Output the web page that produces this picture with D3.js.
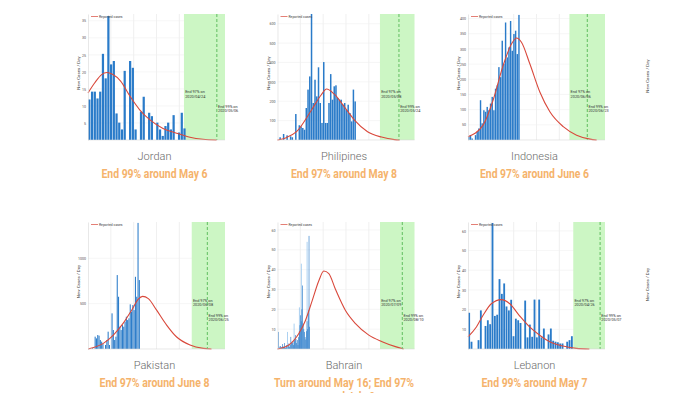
<!DOCTYPE html>
<html><head><meta charset="utf-8">
<script src="https://cdn.jsdelivr.net/npm/d3@7"></script>
<style>body{margin:0;background:#fff;} svg{display:block;}</style>
</head><body>
<svg id="c" width="700" height="393"></svg>
<script>
// ---------- data ----------
const countries = ["Jordan", "Philipines", "Indonesia", "Pakistan", "Bahrain", "Lebanon"];
const headlines = [
  ["End 99% around May 6"],
  ["End 97% around May 8"],
  ["End 97% around June 6"],
  ["End 97% around June 8"],
  ["Turn around May 16; End 97%", "around July 9"],
  ["End 99% around May 7"]
];
const end97Dates = ["2020/04/24", "2020/05/08", "2020/06/06", "2020/06/08", "2020/07/09", "2020/04/26"];
const end99Dates = ["2020/05/06", "2020/05/24", "2020/06/23", "2020/06/25", "2020/08/10", "2020/05/07"];

// daily new cases (one value per day, from day 0)
const jordanCases = [11.9, 14.2, 14.2, 12.2, 14.2, 25.3, 18.1, 36.4, 22.2, 23.2, 7.8, 5.1, 3.1, 20.3, 0, 23.2, 21.2, 3.1, 0, 8.3, 12.7, 0, 8.0, 7.0, 0, 5.1, 3.1, 1.2, 4.1, 5.1, 3.1, 7.3, 0, 2.2, 8.0, 3.4];
const philippinesCases = [0, 14, 0, 31, 0, 24, 0, 19, 14, 0, 134, 0, 76, 70, 62, 53, 165, 260, 328, 650, 191, 311, 225, 375, 191, 88, 402, 88, 88, 191, 340, 208, 277, 282, 217, 208, 208, 182, 191, 156, 182, 139, 96, 260, 199];
const indonesiaCases = [11, 16, 5, 0, 16, 27, 38, 131, 55, 98, 93, 109, 98, 120, 142, 98, 169, 180, 240, 207, 327, 251, 387, 272, 305, 392, 294, 349, 360, 283, 412];
const pakistanCases = [0, 4, 0, 8, 0, 136, 117, 154, 147, 99, 81, 55, 0, 44, 99, 191, 44, 0, 393, 209, 99, 136, 815, 576, 246, 209, 264, 246, 301, 356, 319, 338, 492, 411, 484, 429, 796, 576, 1390, 760];
const bahrainCases = [0, 8.6, 0, 1.2, 1.5, 0.6, 1, 2.5, 1.4, 0.5, 3, 1, 0.5, 2, 1, 0, 1.5, 2.8, 1, 2, 6.1, 3, 3.7, 3, 2, 4, 5, 7, 5, 3, 4.5, 2, 6, 9, 12, 17, 14, 20, 32, 12.8, 10, 8.6, 6, 4.8, 9, 14, 10, 19.5, 57, 11.2];
const bahrainOther = [0, 0, 0, 0, 0, 0, 0, 0, 0, 0, 0, 0, 0, 0, 0, 8.6, 0, 0, 0, 0, 0, 0, 0, 0, 0, 12.8, 0, 0, 0, 0, 0, 0, 0, 21, 0, 0, 43, 0, 0, 0, 0, 0, 0, 0, 0, 54, 0, 0, 0, 0];
const lebanonCases = [18.4, 3.7, 0, 0, 4.5, 19.6, 0, 11.7, 14.6, 12.6, 64, 16.8, 17.4, 35.5, 28, 33.3, 21.6, 19.6, 25, 6.5, 15.4, 14.6, 13.2, 0, 24.6, 5.9, 12.4, 6.2, 25.1, 5.9, 25.1, 5.9, 10.4, 0, 7.4, 10.4, 4.2, 3.7, 3.4, 2.8, 2.8, 0, 3.7, 4.5, 6.5];

// fitted curves: [day, value]
const jordanFit = [[0, 13.8], [2.5, 16.8], [5, 19.2], [7, 19.8], [9, 19.3], [12, 17.3], [15.4, 12.9], [19.1, 8.8], [22.8, 5.9], [27.6, 3.4], [32.6, 2.0], [37.5, 0.8], [42.3, 0.2], [47.3, 0]];
const philippinesFit = [[0, 0], [5, 12], [10.9, 43], [19.5, 155], [25, 232], [28.1, 263], [32.7, 235], [38.4, 170], [44.1, 103], [51.6, 43], [59.6, 15], [67, 2], [70, 0]];
const indonesiaFit = [[0, 11], [9, 49], [15, 131], [21, 245], [26, 316], [29, 336], [32, 322], [37, 251], [43, 158], [49, 93], [57, 44], [65, 16], [73, 3], [77, 0]];
const pakistanFit = [[0, 0], [11.8, 62], [19.5, 154], [27, 282], [33.6, 428], [38.7, 550], [42, 580], [46.4, 556], [52.8, 428], [60.5, 264], [68, 135], [78.5, 44], [88.7, 7], [95, 0]];
const bahrainFit = [[0, 0], [17.4, 2], [32.8, 7.8], [43, 14.4], [53.4, 24.4], [63.6, 34.4], [71.2, 39.3], [79, 38], [89, 30.2], [104.6, 19.4], [120, 12.8], [140.5, 7], [161, 3.7], [181.5, 1.2], [194, 0]];
const lebanonFit = [[0, 6.2], [3.6, 11.2], [6.4, 17], [10, 23], [14.3, 25.1], [17.9, 23], [22, 17], [26.4, 11.2], [30.7, 7], [35, 3.7], [40.7, 1.5], [46.4, 0.3], [52, 0]];

const yMaxes = [37, 650, 415, 1400, 64, 64.5];
const yTickValues = [
  [5, 10, 15, 20, 25, 30, 35],
  [100, 200, 300, 400, 500, 600],
  [50, 100, 150, 200, 250, 300, 350, 400],
  [500, 1000],
  [10, 20, 30, 40, 50, 60],
  [10, 20, 30, 40, 50, 60]
];
const dayRanges = [50.4, 78.5, 82, 105.4, 210.8, 58.7];
const end97Days = [35.3, 58.7, 60.7, 79.8, 157.7, 45.1];
const end99Days = [47.4, 69.6, 71.4, 91.8, 192, 56.6];

const casesList = [jordanCases, philippinesCases, indonesiaCases, pakistanCases, bahrainCases, lebanonCases];
const otherList = [null, null, null, null, bahrainOther, null];
const fitList = [jordanFit, philippinesFit, indonesiaFit, pakistanFit, bahrainFit, lebanonFit];
const headlineWidths = [[106], [106], [109], [110], [140, 62], [106]];

// ---------- layout ----------
const svg = d3.select("#c");
const colLeft = [88, 277.5, 468];
const rowTop = [14, 222];
const rowH = [126, 127];
const W = 137;
const FONT = "Roboto, 'Noto Sans', sans-serif";

countries.forEach((name, p) => {
  const col = p % 3, row = Math.floor(p / 3);
  const left = colLeft[col], top = rowTop[row], h = rowH[row], bottom = top + h;
  const x = d3.scaleLinear().domain([0, dayRanges[p]]).range([left, left + W]);
  const y = d3.scaleLinear().domain([0, yMaxes[p]]).range([bottom, top]);
  const g = svg.append("g");

  // grid
  const gx = d3.range(1, 6).map(k => dayRanges[p] * k / 6);
  g.selectAll(".vg").data(gx).join("line")
    .attr("x1", d => x(d)).attr("x2", d => x(d)).attr("y1", top).attr("y2", bottom)
    .attr("stroke", "#e6e6e6").attr("stroke-width", 0.6);
  g.selectAll(".hg").data(yTickValues[p]).join("line")
    .attr("x1", left).attr("x2", left + W).attr("y1", d => y(d)).attr("y2", d => y(d))
    .attr("stroke", "#f0f0f0").attr("stroke-width", 0.6);

  // green band
  g.append("rect").attr("x", x(end97Days[p])).attr("y", top)
    .attr("width", x(dayRanges[p]) - x(end97Days[p])).attr("height", h)
    .attr("fill", "#ccf6c4");

  // bars
  const step = x(1) - x(0);
  const gap = step > 2 ? 0.5 : (step > 1.2 ? 0.25 : 0);
  if (otherList[p]) {
    g.selectAll(".lb").data(otherList[p]).join("rect")
      .attr("x", (d, i) => x(i) + gap / 2).attr("width", Math.max(0.6, step - gap))
      .attr("y", d => y(d)).attr("height", d => y(0) - y(d))
      .attr("fill", "#7fb8ea");
  }
  g.selectAll(".b").data(casesList[p]).join("rect")
    .attr("x", (d, i) => x(i) + gap / 2).attr("width", Math.max(0.6, step - gap))
    .attr("y", d => y(d)).attr("height", d => y(0) - y(d))
    .attr("fill", "#2a7bc9");

  // fitted curve
  g.append("path").datum(fitList[p])
    .attr("d", d3.line().x(d => x(d[0])).y(d => y(d[1])).curve(d3.curveMonotoneX))
    .attr("fill", "none").attr("stroke", "#d9483b").attr("stroke-width", 1.1);

  // dashed end line
  g.append("line").attr("x1", x(end99Days[p])).attr("x2", x(end99Days[p]))
    .attr("y1", top).attr("y2", bottom)
    .attr("stroke", "#54b854").attr("stroke-width", 0.9).attr("stroke-dasharray", "3,2");

  // axes
  const ya = g.append("g").attr("transform", `translate(${left},0)`)
    .call(d3.axisLeft(y).tickValues(yTickValues[p]).tickFormat(d3.format("d")).tickSize(0).tickPadding(2));
  ya.select(".domain").attr("stroke", "#d8d8d8").attr("stroke-width", 0.6);
  ya.selectAll("text").attr("font-size", 3.6).attr("fill", "#555").attr("font-family", FONT);
  g.append("line").attr("x1", left).attr("x2", left + W).attr("y1", bottom).attr("y2", bottom)
    .attr("stroke", "#d8d8d8").attr("stroke-width", 0.6);

  // y label
  g.append("text").attr("transform", `translate(${left - 8},${top + h / 2 - 4}) rotate(-90)`)
    .attr("text-anchor", "middle").attr("font-size", 4.4).attr("fill", "#444")
    .attr("font-family", FONT).text("New Cases / Day");

  // legend
  g.append("line").attr("x1", left + 3).attr("x2", left + 10).attr("y1", top + 2.5).attr("y2", top + 2.5)
    .attr("stroke", "#d9483b").attr("stroke-width", 0.7);
  g.append("text").attr("x", left + 11).attr("y", top + 3.8).attr("font-size", 3.4)
    .attr("fill", "#444").attr("font-family", FONT).text("Reported cases");

  // annotations
  const ann = (xx, yy, lines) => {
    const t = g.append("text").attr("x", xx).attr("y", yy).attr("font-size", 3.8)
      .attr("fill", "#333").attr("font-family", FONT);
    lines.forEach((s, i) => t.append("tspan").attr("x", xx).attr("dy", i ? 4.4 : 0).text(s));
  };
  ann(x(end97Days[p]) + 1.2, top + h * 0.63, ["End 97% on", end97Dates[p]]);
  ann(x(end99Days[p]) + 1.2, top + h * 0.745, ["End 99% on", end99Dates[p]]);

  // titles
  const cx = left + W / 2 - 2;
  const nameY = row === 0 ? 160 : 369;
  svg.append("text").attr("x", cx).attr("y", nameY).attr("text-anchor", "middle")
    .attr("font-family", FONT).attr("font-weight", 300).attr("font-size", 11)
    .attr("fill", "#6a6a6a").text(name);
  headlines[p].forEach((s, i) => {
    svg.append("text").attr("x", cx).attr("y", nameY + 17.5 + i * 14.5)
      .attr("text-anchor", "middle").attr("font-family", FONT).attr("font-weight", 700)
      .attr("font-size", 13).attr("fill", "#f5b36c")
      .attr("textLength", headlineWidths[p][i]).attr("lengthAdjust", "spacingAndGlyphs")
      .text(s);
  });
});

// cut-off fourth column y labels
[0, 1].forEach(row => {
  svg.append("text").attr("transform", `translate(649,${rowTop[row] + rowH[row] / 2 - 1}) rotate(-90)`)
    .attr("text-anchor", "middle").attr("font-size", 4.4).attr("fill", "#444")
    .attr("font-family", FONT).text("New Cases / Day");
});
</script>
</body></html>
